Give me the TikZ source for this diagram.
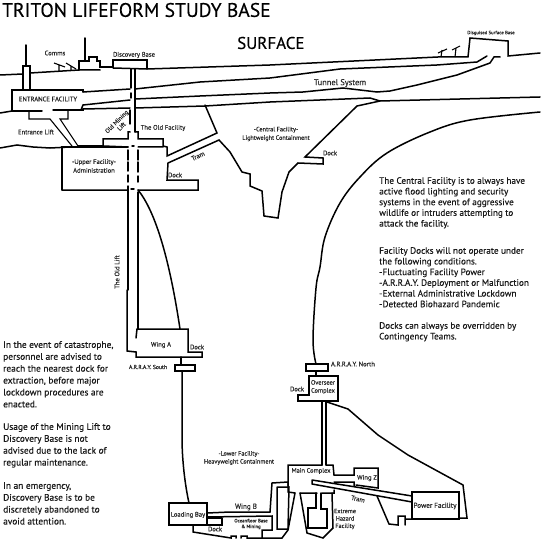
\documentclass[tikz,border=0pt]{standalone}
\usepackage{fontspec}
\setmainfont{PT Sans}[BoldFont={PT Sans},BoldFeatures={FakeBold=0.3}]
\tikzset{
 wall/.style={line width=1.5pt,line join=miter,line cap=round},
 thin wall/.style={line width=1.1pt},
 lab/.style={font=\fontsize{6.6}{8}\selectfont\bfseries,align=center,inner sep=0pt,text=black!85},
 small/.style={font=\fontsize{5.4}{6.5}\selectfont\bfseries,align=center,inner sep=0pt,text=black!85},
 para/.style={font=\fontsize{9.4}{11.9}\selectfont\bfseries,align=left,anchor=north west,inner sep=0pt,text=black!90},
 parb/.style={font=\fontsize{9.2}{10.7}\selectfont\bfseries,align=left,anchor=north west,inner sep=0pt,text=black!90},
}
\begin{document}
\begin{tikzpicture}[x=1pt,y=-1pt]
\useasboundingbox (0,0) rectangle (540,540);
% surface
\draw[wall] (0,75)--(23,74) (30,73)--(79,70);
\draw[wall] (23,90)--(23,66)--(30,66)--(30,90);
\draw[wall] (26,45)--(26,66);
\draw[wall] (79,70)--(79,61)--(89,61)--(89,57)--(97,57)--(97,61)--(100,61)--(100,67)--(113,67)--(113,60)--(147,60)--(147,69);
\draw[wall] (85,38)--(85,61);
\draw[wall] (79,70)--(100,70) (113,68)--(147,69)--(270,65)--(438,57)--(468,57)--(470,38)--(508,41)--(508,56)--(540,53);
% comms dishes
\draw[thin wall] (54,63)--(65,67) (59,65)--(59,72) (66,63)--(76,69) (71,66)--(71,71);
\draw[thin wall] (441,57)--(442,50) (438,53)--(447,49) (455,57)--(456,48) (452,50)--(460,46);
% tunnel walls
\draw[wall] (135,89)--(200,82)--(270,78)--(340,69)--(437,65)--(477,62)--(487,56);
\draw[wall] (83,105)--(130,100) (135,99)--(200,96)--(270,93)--(303,92)--(343,88)--(377,92)--(390,91)--(417,85)--(457,75)--(490,63)--(494,57)--(500,57);
\draw[wall] (83,92)--(130,89);
\draw[wall] (83,109)--(130,108) (135,108)--(205,106)--(270,102)--(370,98)--(380,101)--(540,97);
% entrance
\draw[wall] (0,113)--(12,111);
\draw[wall] (83,92)--(83,90)--(12,90)--(12,111)--(42,111) (53,110)--(83,110)--(83,109);
\draw[wall] (83,105)--(81,110);
\draw[thin wall] (29,111)--(29,119)--(50,119)--(72,146) (68,111)--(68,119)--(60,119)--(78,146);
\draw[wall] (0,148)--(17,145)--(33,147)--(50,148)--(70,147);
% upper facility
\draw[wall] (78,146)--(103,146)--(103,139)--(128,139)--(128,132)--(130,132) (135,132)--(138,132)--(138,139)--(163,139)--(163,146)--(167,147);
\draw[wall] (103,146)--(128,147) (138,147)--(163,147);
\draw[wall] (167,147)--(167,156)--(217,133)--(205,105);
\draw[wall] (62,190)--(62,147)--(128,147);
\draw[wall] (62,190)--(128,190) (138,190)--(198,190)--(198,180)--(167,180)--(168,163)--(219,140)--(230,152)--(242,172)--(250,174)--(250,186)--(262,191)--(264,216)--(278,218)--(282,192)--(289,172)--(298,163)--(323,164)--(323,158)--(305,157)--(357,106)--(380,101);
% mining lift
\draw[wall] (131,69)--(131,88) (131,93)--(131,98) (130,110)--(130,124);
\draw[wall] (135,69)--(135,132);
% old lift in facility
\draw[wall] (128,150)--(128,160) (128,162)--(128,171) (128,175)--(128,182) (128,186)--(128,290);
\draw[wall] (138,150)--(138,160) (138,162)--(138,172) (138,176)--(138,182) (138,192)--(138,329);
\draw[wall] (132,146)--(134,146) (131,189)--(134,189);
\draw[wall] (127,290)--(127,351)--(136,352)--(136,357)--(202,357)--(202,352)--(188,352)--(188,329)--(137,329)--(136,338);
\draw[wall] (138,190) .. controls (156,212) and (170,262) .. (180,329);
% curved wall right
\draw[wall] plot[smooth,tension=0.6] coordinates {(540,112) (470,120) (430,132) (387,153) (360,177) (340,203) (325,237) (320,267) (316,288) (313,340) (316,364)};
% array south
\draw[wall] (181,357)--(181,365);
\draw[wall] (175,365) rectangle (195,371);
\draw[wall] (182,371)--(182,437) .. controls (182,460) and (185,485) .. (189,503);
% loading bay
\draw[wall] (169,503) rectangle (207,525);
\draw[wall] (207,513)--(230,512)--(270,512)--(272,483)--(288,482);
\draw[wall] (207,517)--(272,516)--(272,530)--(262,530)--(262,538);
\draw[line width=2pt] (207,518)--(222,518);
\draw[wall] (222,518)--(222,525)--(207,525);
\draw[wall] (193,525)--(193,532)--(231,538)--(231,536)--(236,536)--(236,538) (241,538)--(241,536)--(247,536)--(247,538)--(282,538)--(288,530)--(295,493);
\draw[wall] (277,487)--(277,529)--(288,529)--(289,487)--(277,487);
% main complex
\draw[wall] (288,486)--(288,465)--(322,465) (326,465)--(333,465)--(334,475)--(354,475)--(354,468)--(378,468)--(378,488)--(356,485) (334,482)--(354,482)--(354,486);
\draw[wall] (288,482)--(288,492)--(295,493) (300,493)--(317,493) (322,493)--(334,493)--(334,490);
\draw[wall] (300,493)--(307,533)--(323,538)--(333,528)--(332,493);
\draw[wall] (316,493)--(316,508)--(308,508)--(308,528)--(327,528)--(327,509)--(321,509)--(321,493);
% tram
\draw[wall] (312,480)--(412,496) (312,484)--(412,502) (312,480)--(312,484);
% power
\draw[wall] (412,492) rectangle (459,519);
\draw[wall] (377,496)--(389,524)--(398,525)--(398,516)--(405,516)--(405,525) (405,519)--(412,519);
\draw[wall] (459,518)--(467,518)--(463,485)--(408,455)--(378,435)--(348,409)--(327,402);
% overseer
\draw[wall] (316,371)--(316,376);
\draw[wall] (306,364) rectangle (328,371);
\draw[wall] (309,376)--(338,376)--(338,401)--(298,401)--(298,395)--(309,395)--cycle;
\draw[wall] (322,401)--(322,465) (326,401)--(326,465);
% title etc
\node[anchor=west,inner sep=0pt,font=\fontsize{19.6}{22}\selectfont\bfseries] (title) at (2,10) {TRITON LIFEFORM STUDY BASE};
\node[anchor=west,inner sep=0pt,font=\fontsize{17}{20}\selectfont\bfseries] (surface) at (237,43) {SURFACE};
\node[lab] (comms) at (55,53) {Comms};
\node[lab] (disc) at (134,55) {Discovery Base};
\node[lab,font=\fontsize{8.4}{10}\selectfont\bfseries] (tunnel) at (340,83) {Tunnel System};
\node[small,font=\fontsize{4.8}{6}\selectfont\bfseries] (disg) at (491,33) {Disguised Surface Base};
\node[lab] (entf) at (48,99) {ENTRANCE FACILITY};
\node[lab] (entl) at (36,132) {Entrance Lift};
\node[lab,rotate=45,font=\fontsize{6.3}{6.8}\selectfont\bfseries] (oml) at (119,124) {Old Mining\\Lift};
\node[lab] (oldf) at (163,128) {The Old Facility};
\node[lab,font=\fontsize{6.2}{8.5}\selectfont\bfseries] (cent) at (276,134) {-Central Facility-\\Lightweight Containment};
\node[lab] (dk1) at (330,153) {Dock};
\node[lab,rotate=25] (tr1) at (198,156) {Tram};
\node[lab,font=\fontsize{6.6}{8.8}\selectfont\bfseries] (upper) at (94,166) {-Upper Facility-\\Administration};
\node[lab] (dk2) at (175,175) {Dock};
\node[lab,rotate=90] (oldl) at (117,272) {The Old Lift};
\node[lab] (winga) at (161,345) {Wing A};
\node[lab] (dk3) at (197,347) {Dock};
\node[lab,font=\fontsize{5.7}{7}\selectfont\bfseries] (arrs) at (148,367) {A.R.R.A.Y. South};
\node[lab] (arrn) at (353,364) {A.R.R.A.Y. North};
\node[lab] (dk4) at (297,389) {Dock};
\node[lab,font=\fontsize{6.4}{8}\selectfont\bfseries] (overs) at (323,387) {Overseer\\Complex};
\node[lab,font=\fontsize{6.2}{8}\selectfont\bfseries] (lower) at (239,458) {-Lower Facility-\\Heavyweight Containment};
\node[lab,font=\fontsize{6.4}{8}\selectfont\bfseries] (mainc) at (311,471) {Main Complex};
\node[lab] (wingz) at (367,478) {Wing Z};
\node[lab,rotate=-12] (tr2) at (358,499) {Tram};
\node[lab,font=\fontsize{7.2}{9}\selectfont\bfseries] (pow) at (435,506) {Power Facility};
\node[lab,font=\fontsize{6.2}{7.4}\selectfont\bfseries] (ext) at (345,519) {Extreme\\Hazard\\Facility};
\node[lab] (load) at (188,515) {Loading Bay};
\node[lab,font=\fontsize{7.2}{9}\selectfont\bfseries] (wingb) at (246,507) {Wing B};
\node[lab] (dk5) at (215,529) {Dock};
\node[small,font=\fontsize{4.8}{5.8}\selectfont\bfseries] (ocean) at (251,524) {Oceanfloor Base\\\& Mining};
\node[parb] (right1) at (379,177) {The Central Facility is to always have\\active flood lighting and security\\systems in the event of aggressive\\wildlife or intruders attempting to\\attack the facility.};
\node[parb] (right2) at (379,247) {Facility Docks will not operate under\\the following conditions.\\-Fluctuating Facility Power\\-A.R.R.A.Y. Deployment or Malfunction\\-External Administrative Lockdown\\-Detected Biohazard Pandemic};
\node[parb] (right3) at (379,322) {Docks can always be overridden by\\Contingency Teams.};
\node[para] (left1) at (3,341) {In the event of catastrophe,\\personnel are advised to\\reach the nearest dock for\\extraction, before major\\lockdown procedures are\\enacted.};
\node[para] (left2) at (3,423) {Usage of the Mining Lift to\\Discovery Base is not\\advised due to the lack of\\regular maintenance.};
\node[para] (left3) at (3,482) {In an emergency,\\Discovery Base is to be\\discretely abandoned to\\avoid attention.};
\end{tikzpicture}
\end{document}
